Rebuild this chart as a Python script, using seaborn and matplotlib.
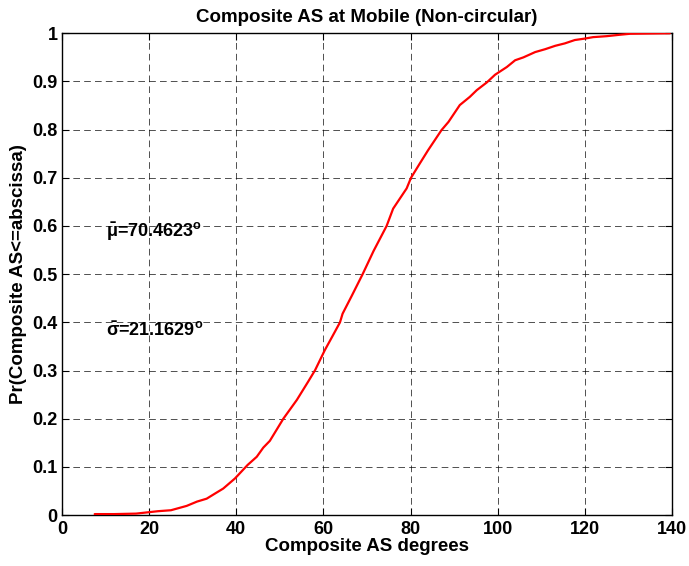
import matplotlib
matplotlib.use("Agg")
import matplotlib.pyplot as plt
import seaborn as sns
import pandas as pd

# Empirical CDF of composite angular spread at the mobile
angle_deg = [7.5, 12, 17, 20, 22, 25, 28.6, 31, 33.2, 35, 37, 39.7, 42.6, 44.7,
             46.2, 47.7, 50.8, 53.9, 56.5, 58.1, 60.3, 62, 63.8, 64.4, 66.5, 69.0,
             71.5, 74.5, 76.0, 79.1, 80.1, 82, 84.0, 87.1, 88.7, 91.3, 93.6, 95.2,
             97.5, 99.4, 102.1, 104.0, 105.9, 108.6, 110.9, 113.2, 115.4, 117.7,
             120.0, 121.9, 125.0, 128.1, 130.4, 139.5]
cdf = [0.002, 0.002, 0.003, 0.006, 0.008, 0.010, 0.019, 0.028, 0.034, 0.044,
       0.055, 0.076, 0.104, 0.121, 0.140, 0.154, 0.200, 0.239, 0.277, 0.301,
       0.342, 0.370, 0.400, 0.418, 0.455, 0.500, 0.548, 0.600, 0.636, 0.678,
       0.700, 0.728, 0.757, 0.799, 0.816, 0.851, 0.868, 0.882, 0.898, 0.914,
       0.930, 0.944, 0.950, 0.961, 0.967, 0.974, 0.979, 0.986, 0.989, 0.992,
       0.994, 0.997, 0.999, 1.0]

x_ticks = [0, 20, 40, 60, 80, 100, 120, 140]
y_ticks = [0, 0.1, 0.2, 0.3, 0.4, 0.5, 0.6, 0.7, 0.8, 0.9, 1]
y_tick_labels = ["0", "0.1", "0.2", "0.3", "0.4", "0.5", "0.6", "0.7", "0.8", "0.9", "1"]

mean_label = r"$\bar{\mu}$=70.4623$^{\rm o}$"
std_label = r"$\bar{\sigma}$=21.1629$^{\rm o}$"

sns.set_style("white")
plt.rcParams["font.family"] = ["Liberation Sans", "DejaVu Sans"]
plt.rcParams["font.weight"] = "bold"
plt.rcParams["text.color"] = "black"
plt.rcParams["axes.labelcolor"] = "black"
plt.rcParams["xtick.color"] = "black"
plt.rcParams["ytick.color"] = "black"
plt.rcParams["mathtext.fontset"] = "custom"
plt.rcParams["mathtext.rm"] = "Liberation Sans:bold"
plt.rcParams["mathtext.it"] = "Liberation Sans:bold"
plt.rcParams["mathtext.bf"] = "Liberation Sans:bold"
plt.rcParams["mathtext.default"] = "rm"

df = pd.DataFrame({"angle": angle_deg, "cdf": cdf})

fig = plt.figure(figsize=(6.89, 5.66), dpi=100)
ax = fig.add_axes([0.090, 0.090, 0.8853, 0.8512])

sns.lineplot(data=df, x="angle", y="cdf", color="red", linewidth=1.6, ax=ax,
             estimator=None, sort=False, zorder=3)

ax.set_xlim(0, 140)
ax.set_ylim(0, 1)
ax.set_xticks(x_ticks)
ax.set_xticklabels([str(t) for t in x_ticks])
ax.set_yticks(y_ticks)
ax.set_yticklabels(y_tick_labels)

ax.grid(True, color="black", linestyle=(0, (8, 5)), linewidth=0.6, alpha=0.8)
for s in ax.spines.values():
    s.set_visible(True)
    s.set_color("black")
    s.set_linewidth(1.0)

ax.tick_params(axis="both", direction="in", length=5, width=0.8, labelsize=13,
               colors="black", top=True, right=True, bottom=True, left=True)
ax.tick_params(axis="y", pad=3)
ax.tick_params(axis="x", pad=4)
for lbl in ax.get_xticklabels() + ax.get_yticklabels():
    lbl.set_fontweight("bold")

ax.set_title("Composite AS at Mobile (Non-circular)", fontsize=13.5, fontweight="bold",
             color="black", pad=8)
ax.set_xlabel("Composite AS degrees", fontsize=13.5, fontweight="bold", color="black", labelpad=0)
ax.set_ylabel("Pr(Composite AS<=abscissa)", fontsize=13.5, fontweight="bold", color="black",
              labelpad=4)

ax.text(10, 0.59, mean_label, fontsize=13, fontweight="bold", color="black",
        va="center", ha="left", zorder=4)
ax.text(10, 0.385, std_label, fontsize=13, fontweight="bold", color="black",
        va="center", ha="left", zorder=4)

fig.savefig("out.png", dpi=100)
